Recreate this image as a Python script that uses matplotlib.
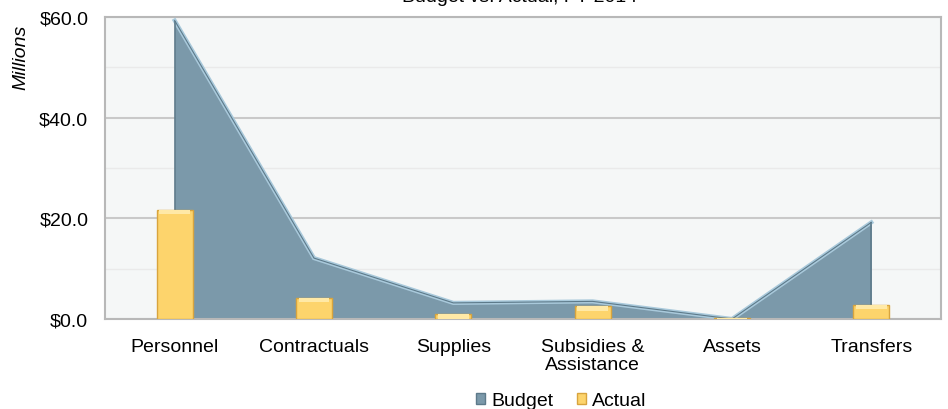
import matplotlib

matplotlib.use("Agg")

import matplotlib.pyplot as plt
import numpy as np
from matplotlib.patches import Patch
from matplotlib.ticker import FuncFormatter, MultipleLocator

categories = ["Personnel", "Contractuals", "Supplies", "Subsidies &\nAssistance", "Assets", "Transfers"]
budget = [59.3, 12.1, 3.2, 3.5, 0.0, 19.2]
actual = [21.7, 4.2, 0.9, 2.5, 0.1, 2.8]
title = "Budget vs. Actual, FY 2014"

AREA = "#7b99aa"
AREA_LIGHT = "#a9c9db"
AREA_DARK = "#5d7a8a"
GOLD = "#fdd46c"
GOLD_EDGE = "#d8a43e"
GOLD_LIGHT = "#ffe9a6"

plt.rcParams["font.family"] = ["Liberation Sans", "DejaVu Sans"]

fig = plt.figure(figsize=(9.48, 4.10), dpi=100)
ax = fig.add_axes([105 / 948, 1 - 320 / 410, 836 / 948, 302 / 410])
ax.set_facecolor("#f5f7f7")

x = np.arange(len(categories)) + 0.5

# budget area with a rough bevel look
ax.fill_between(x, budget, 0, color=AREA, zorder=2, linewidth=0)
ax.plot(x, budget, color=AREA_LIGHT, lw=3.0, zorder=3, solid_joinstyle="miter")
ax.plot(x, budget, color=AREA_DARK, lw=0.8, zorder=3)
ax.vlines([x[0], x[-1]], 0, [budget[0], budget[-1]], color=AREA_DARK, lw=1.2, zorder=3)

# actual bars
bw = 0.26
ax.bar(x, actual, width=bw, color=GOLD, edgecolor=GOLD_EDGE, linewidth=1.0, zorder=4)
cap = [min(v, 0.9) for v in actual]
ax.bar(x, cap, width=bw * 0.85, bottom=np.array(actual) - np.array(cap),
       color=GOLD_LIGHT, linewidth=0, zorder=5)

ax.set_xlim(0, len(categories))
ax.set_ylim(0, 60)
ax.yaxis.set_major_locator(MultipleLocator(20))
ax.yaxis.set_minor_locator(MultipleLocator(10))
ax.yaxis.set_major_formatter(FuncFormatter(lambda v, _: f"${v:.1f}"))
ax.grid(axis="y", which="major", color="#c9c9c9", lw=1.5, zorder=0)
ax.grid(axis="y", which="minor", color="#eaeaea", lw=1.0, zorder=0)
ax.set_axisbelow(True)

ax.set_xticks(x)
ax.set_xticklabels(categories, fontsize=14, linespacing=1.05)
ax.tick_params(axis="x", length=0, pad=14)
ax.tick_params(axis="y", which="both", length=0, pad=12, labelsize=14)
for s in ax.spines.values():
    s.set_color("#b8b8b8")
    s.set_linewidth(1.5)

fig.text(21 / 948, 1 - 57 / 410, "Millions", rotation=90, style="italic",
         fontsize=14, ha="center", va="center")

# title is cropped at the top edge in the reference, only descenders show
fig.text(520 / 948, 1 - 1.5 / 410, title, ha="center", va="baseline", fontsize=14)

handles = [Patch(facecolor=AREA, edgecolor=AREA_DARK, label="Budget"),
           Patch(facecolor=GOLD, edgecolor=GOLD_EDGE, label="Actual")]
fig.legend(handles=handles, loc="lower center", bbox_to_anchor=(561 / 948, -0.043),
           ncol=2, frameon=False, fontsize=14, handlelength=0.5, handleheight=0.5,
           handletextpad=0.3, columnspacing=1.2)

fig.savefig("out.png", dpi=100)
